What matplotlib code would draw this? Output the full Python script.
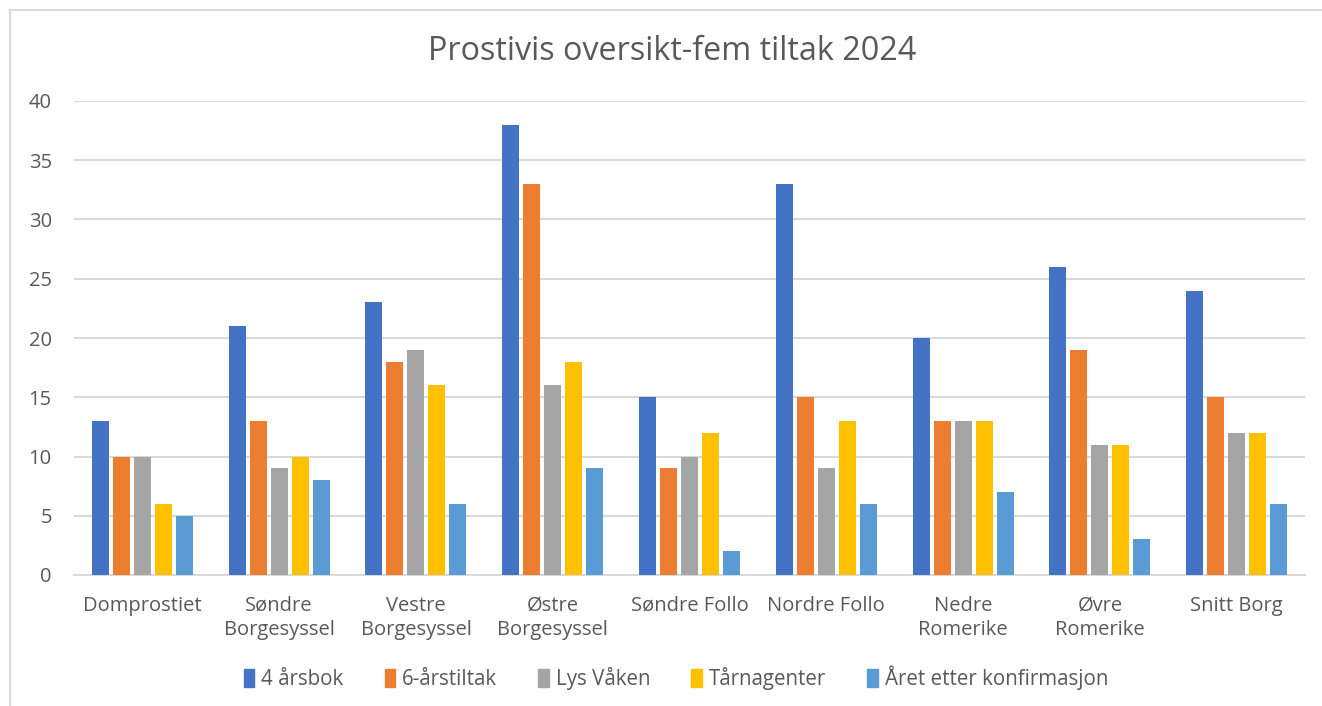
import numpy as np
import matplotlib
matplotlib.use("Agg")
import matplotlib.pyplot as plt
from matplotlib.patches import Rectangle, Patch

categories = ["Domprostiet", "Søndre\nBorgesyssel", "Vestre\nBorgesyssel", "Østre\nBorgesyssel",
              "Søndre Follo", "Nordre Follo", "Nedre\nRomerike", "Øvre\nRomerike", "Snitt Borg"]
series = ["4 årsbok", "6-årstiltak", "Lys Våken", "Tårnagenter", "Året etter konfirmasjon"]
aarsbok = [13, 21, 23, 38, 15, 33, 20, 26, 24]
seks_aar = [10, 13, 18, 33, 9, 15, 13, 19, 15]
lys_vaaken = [10, 9, 19, 16, 10, 9, 13, 11, 12]
taarnagenter = [6, 10, 16, 18, 12, 13, 13, 11, 12]
aaret_etter = [5, 8, 6, 9, 2, 6, 7, 3, 6]
values = [aarsbok, seks_aar, lys_vaaken, taarnagenter, aaret_etter]
colors = ["#4472C4", "#ED7D31", "#A5A5A5", "#FFC000", "#5B9BD5"]

txt = "#595959"
grid = "#D9D9D9"
plt.rcParams['font.family'] = ['Open Sans', 'DejaVu Sans']

fig = plt.figure(figsize=(13.22, 7.06), dpi=100)
ax = fig.add_axes([74/1322, 1-575/706, (1305-74)/1322, (575-101)/706])

# chart frame
fig.patches.append(Rectangle((10/1322, -0.05), 1.2, 1-10/706+0.05, transform=fig.transFigure,
                             fill=False, edgecolor=grid, linewidth=1.5))

x = np.arange(len(categories))
pitch = 0.1535
width = 0.124
for i, (vals, c) in enumerate(zip(values, colors)):
    ax.bar(x + (i-2)*pitch, vals, width, color=c, zorder=3)

ax.set_xlim(-0.5, len(categories)-0.5)
ax.set_ylim(0, 40)
ax.set_yticks(range(0, 41, 5))
ax.yaxis.grid(True, color=grid, linewidth=1.5, zorder=0)
for s in ["top", "right", "left"]:
    ax.spines[s].set_visible(False)
ax.spines["bottom"].set_color(grid)
ax.spines["bottom"].set_linewidth(1.5)
ax.tick_params(axis="both", length=0, colors=txt)
ax.tick_params(axis="y", pad=16, labelsize=14.5)
ax.tick_params(axis="x", pad=15, labelsize=14.5)
ax.set_xticks(x)
ax.set_xticklabels(categories, linespacing=1.3)

fig.text(672/1322, 1-52/706, "Prostivis oversikt-fem tiltak 2024", ha="center", va="center",
         fontsize=23.3, color=txt)

handles = [Patch(color=c, label=s) for c, s in zip(colors, series)]
fig.legend(handles=handles, loc="center", bbox_to_anchor=(676/1322, 1-678/706), ncol=5,
           frameon=False, handlelength=0.5, handleheight=1.0, handletextpad=0.35, columnspacing=2.0,
           prop={'size': 14.8}, labelcolor=txt)

fig.savefig("out.png", dpi=100, facecolor="white")
